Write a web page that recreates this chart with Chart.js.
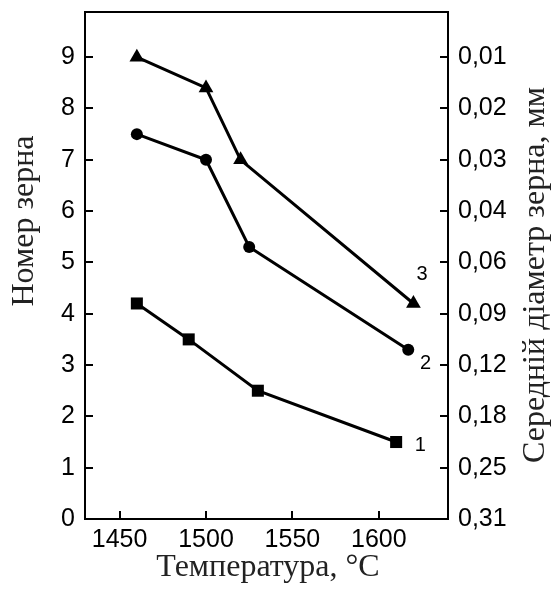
<!DOCTYPE html>
<html>
<head>
<meta charset="utf-8">
<script src="https://cdn.jsdelivr.net/npm/chart.js@4/dist/chart.umd.min.js"></script>
<style>
  body { margin: 0; background: #fff; }
  canvas { display: block; }
</style>
</head>
<body>
<canvas id="grainChart" width="554" height="591"></canvas>
<script>
// Температура, °C
const temp1 = [1460, 1490, 1530, 1610];
const temp2 = [1460, 1500, 1525, 1617];
const temp3 = [1460, 1500, 1520, 1620];

// Номер зерна
const grain1 = [4.2, 3.5, 2.5, 1.5];
const grain2 = [7.5, 7.0, 5.3, 3.3];
const grain3 = [9.0, 8.4, 7.0, 4.2];

const xTicks = [1450, 1500, 1550, 1600];
const yTicks = [0, 1, 2, 3, 4, 5, 6, 7, 8, 9];
// середній діаметр зерна для кожного номера (0..9)
const diamLabels = ['0,31', '0,25', '0,18', '0,12', '0,09', '0,06', '0,04', '0,03', '0,02', '0,01'];

const curveNames = ['1', '2', '3'];
const curveNameAt = [[1624, 1.44], [1627, 3.04], [1625, 4.76]];

const toPoints = (xs, ys) => xs.map((x, i) => ({ x: x, y: ys[i] }));

const sansTick = { family: "'Liberation Sans', Arial, sans-serif", size: 25 };
const serifTitle = "32px 'Liberation Serif', 'Times New Roman', serif";

// рамка, внутрішні риски, підписи осей і номери кривих
const framePlugin = {
  id: 'frame',
  afterDraw(chart) {
    const ctx = chart.ctx;
    const a = chart.chartArea;
    const xs = chart.scales.x, ys = chart.scales.y;
    ctx.save();
    ctx.strokeStyle = '#000';
    ctx.lineWidth = 2;
    ctx.strokeRect(a.left, a.top, a.right - a.left, a.bottom - a.top);
    ctx.beginPath();
    xTicks.forEach(v => {
      const px = Math.round(xs.getPixelForValue(v));
      ctx.moveTo(px, a.bottom);
      ctx.lineTo(px, a.bottom - 8);
    });
    yTicks.forEach(v => {
      const py = Math.round(ys.getPixelForValue(v));
      ctx.moveTo(a.left, py);
      ctx.lineTo(a.left + 8, py);
      ctx.moveTo(a.right, py);
      ctx.lineTo(a.right - 8, py);
    });
    ctx.stroke();

    ctx.fillStyle = '#000';
    ctx.font = "20px 'Liberation Sans', Arial, sans-serif";
    ctx.textAlign = 'center';
    ctx.textBaseline = 'middle';
    curveNames.forEach((t, i) => {
      ctx.fillText(t, xs.getPixelForValue(curveNameAt[i][0]), ys.getPixelForValue(curveNameAt[i][1]));
    });

    ctx.fillStyle = '#222';
    ctx.font = serifTitle;
    ctx.textBaseline = 'alphabetic';
    ctx.fillText('Температура, °C', 268, 576);

    ctx.save();
    ctx.translate(33, 221);
    ctx.rotate(-Math.PI / 2);
    ctx.fillText('Номер зерна', 0, 0);
    ctx.restore();

    ctx.save();
    ctx.translate(544, 275);
    ctx.rotate(-Math.PI / 2);
    ctx.fillText('Середній діаметр зерна, мм', 0, 0);
    ctx.restore();
    ctx.restore();
  }
};

const series = (data, style, r) => ({
  data: data,
  borderColor: '#000',
  backgroundColor: '#000',
  borderWidth: 3,
  pointStyle: style,
  pointRadius: r,
  pointBorderWidth: 0,
  tension: 0
});

// фіксовані розміри осей, щоб область графіка стояла на місці
const fixBox = (w, h) => s => {
  if (w) s.width = w;
  if (h) s.height = h;
  s.paddingTop = 0;
  s.paddingBottom = 0;
  s.paddingLeft = 0;
  s.paddingRight = 0;
};

new Chart(document.getElementById('grainChart').getContext('2d'), {
  type: 'line',
  data: {
    datasets: [
      series(toPoints(temp1, grain1), 'rect', 8.5),
      series(toPoints(temp2, grain2), 'circle', 6),
      series(toPoints(temp3, grain3), 'triangle', 8.5)
    ]
  },
  options: {
    responsive: false,
    animation: false,
    layout: { padding: { top: 12 } },
    plugins: { legend: { display: false }, tooltip: { enabled: false } },
    scales: {
      x: {
        type: 'linear',
        min: 1430,
        max: 1640,
        afterBuildTicks: s => { s.ticks = xTicks.map(v => ({ value: v })); },
        afterFit: fixBox(0, 72),
        grid: { display: false, drawTicks: false },
        border: { display: false },
        ticks: { color: '#000', font: sansTick, padding: 6, maxRotation: 0, callback: v => String(v) }
      },
      y: {
        position: 'left',
        min: 0,
        max: 9.88,
        afterBuildTicks: s => { s.ticks = yTicks.map(v => ({ value: v })); },
        afterFit: fixBox(85, 0),
        grid: { display: false, drawTicks: false },
        border: { display: false },
        ticks: { color: '#000', font: sansTick, padding: 10 }
      },
      y1: {
        position: 'right',
        min: 0,
        max: 9.88,
        afterBuildTicks: s => { s.ticks = yTicks.map(v => ({ value: v })); },
        afterFit: fixBox(106, 0),
        grid: { display: false, drawTicks: false },
        border: { display: false },
        ticks: {
          color: '#000',
          font: sansTick,
          padding: 10,
          callback: v => diamLabels[v]
        }
      }
    }
  },
  plugins: [framePlugin]
});
</script>
</body>
</html>
